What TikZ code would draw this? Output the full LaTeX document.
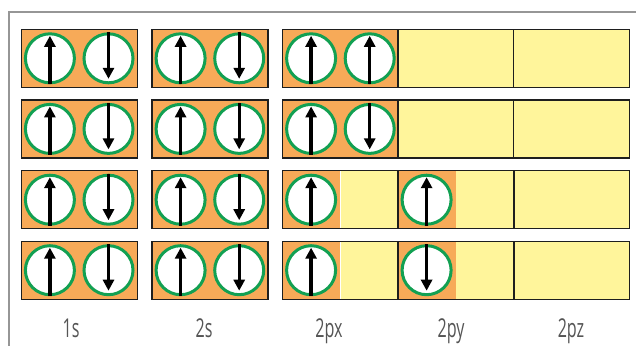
\documentclass[tikz,border=0pt]{standalone}
\usepackage{fontspec}
\newfontfamily\lblfont{Open Sans}
\usetikzlibrary{arrows.meta}
\definecolor{orb}{RGB}{247,170,88}
\definecolor{emp}{RGB}{255,245,155}
\definecolor{grn}{RGB}{18,160,82}
\definecolor{frm}{RGB}{150,150,150}
\definecolor{lbl}{RGB}{85,85,85}
\tikzset{
  box/.style={draw={rgb,255:red,30;green,30;blue,30},line width=1.4pt,minimum height=58pt,inner sep=0pt,outer sep=0pt},
  fullbox/.style={box,minimum width=116pt},
  halfbox/.style={inner sep=0pt,outer sep=0pt,minimum height=57pt,minimum width=57.5pt},
  spin/.style={circle,draw=grn,line width=3pt,fill=white,minimum size=49pt,inner sep=0pt},
  arr/.style={line width=3.3pt,-{Triangle[width=11pt,length=11pt]}},
  lab/.style={anchor=base,text=lbl,font=\lblfont\fontsize{26}{26}\selectfont,inner sep=0pt}
}
\begin{document}
\begin{tikzpicture}[x=1pt,y=-1pt]
\useasboundingbox (0,0) rectangle (636,346);
% frame
\draw[frm,line width=1.5pt] (636,12) -- (9,12) -- (9,346);
% row centres
\def\rowy{{58.3,128.9,199.7,270.2}}
% ---------- 1s and 2s, all rows: full pairs
\foreach \r [evaluate=\r as \yy using {\rowy[\r]}] in {0,1,2,3}{
  \foreach \cx/\nm in {79.2/a,209.9/b}{
    \node[fullbox,fill=orb] (\nm\r) at (\cx,\yy) {};
    \node[spin] (\nm\r u) at ([xshift=-29.3pt]\nm\r.center) {};
    \node[spin] (\nm\r d) at ([xshift=29.3pt]\nm\r.center) {};
    \draw[arr] (\nm\r u.south) -- ([yshift=-3.5pt]\nm\r u.north);
    \draw[arr] (\nm\r d.north) -- ([yshift=5.5pt]\nm\r d.south);
  }
}
% ---------- 2px, 2py, 2pz
% row 1
\node[fullbox,fill=orb] (x0) at (340.4,58.3) {};
\node[fullbox,fill=emp] (y0) at (455.9,58.3) {};
\node[fullbox,fill=emp] (z0) at (571.4,58.3) {};
\node[spin] (x0u) at ([xshift=-29.3pt]x0.center) {};
\node[spin] (x0v) at ([xshift=29.3pt]x0.center) {};
\draw[arr] (x0u.south) -- ([yshift=-3.5pt]x0u.north);
\draw[arr] (x0v.south) -- ([yshift=-3.5pt]x0v.north);
% row 2
\node[fullbox,fill=orb] (x1) at (340.4,128.9) {};
\node[fullbox,fill=emp] (y1) at (455.9,128.9) {};
\node[fullbox,fill=emp] (z1) at (571.4,128.9) {};
\node[spin] (x1u) at ([xshift=-29.3pt]x1.center) {};
\node[spin] (x1d) at ([xshift=29.3pt]x1.center) {};
\draw[arr] (x1u.south) -- ([yshift=-3.5pt]x1u.north);
\draw[arr] (x1d.north) -- ([yshift=5.5pt]x1d.south);
% rows 3 and 4
\foreach \r/\yy in {2/199.7,3/270.2}{
  \node[fullbox,fill=emp] (x\r) at (340.4,\yy) {};
  \node[fullbox,fill=emp] (y\r) at (455.9,\yy) {};
  \node[fullbox,fill=emp] (z\r) at (571.4,\yy) {};
  \node[halfbox,fill=orb,anchor=west] (xo\r) at ([xshift=0.7pt]x\r.west) {};
  \node[halfbox,fill=orb,anchor=west] (yo\r) at ([xshift=0.7pt]y\r.west) {};
  \draw[white,line width=0.6pt] (xo\r.north east) -- (xo\r.south east);
  \draw[box] (x\r.north west) rectangle (x\r.south east);
  \draw[box] (y\r.north west) rectangle (y\r.south east);
  \node[spin] (x\r u) at ([xshift=-29.3pt]x\r.center) {};
  \node[spin] (y\r s) at ([xshift=-29.3pt]y\r.center) {};
  \draw[arr] (x\r u.south) -- ([yshift=-3.5pt]x\r u.north);
}
\draw[arr] (y2s.south) -- ([yshift=-3.5pt]y2s.north);
\draw[arr] (y3s.north) -- ([yshift=5.5pt]y3s.south);
% labels
\node[lab] (l1) at (71,337) {\scalebox{0.62}[1]{1s}};
\node[lab] (l2) at (204,337) {\scalebox{0.62}[1]{2s}};
\node[lab] (l3) at (329,337) {\scalebox{0.62}[1]{2px}};
\node[lab] (l4) at (451,337) {\scalebox{0.62}[1]{2py}};
\node[lab] (l5) at (571,337) {\scalebox{0.62}[1]{2pz}};
\end{tikzpicture}
\end{document}
